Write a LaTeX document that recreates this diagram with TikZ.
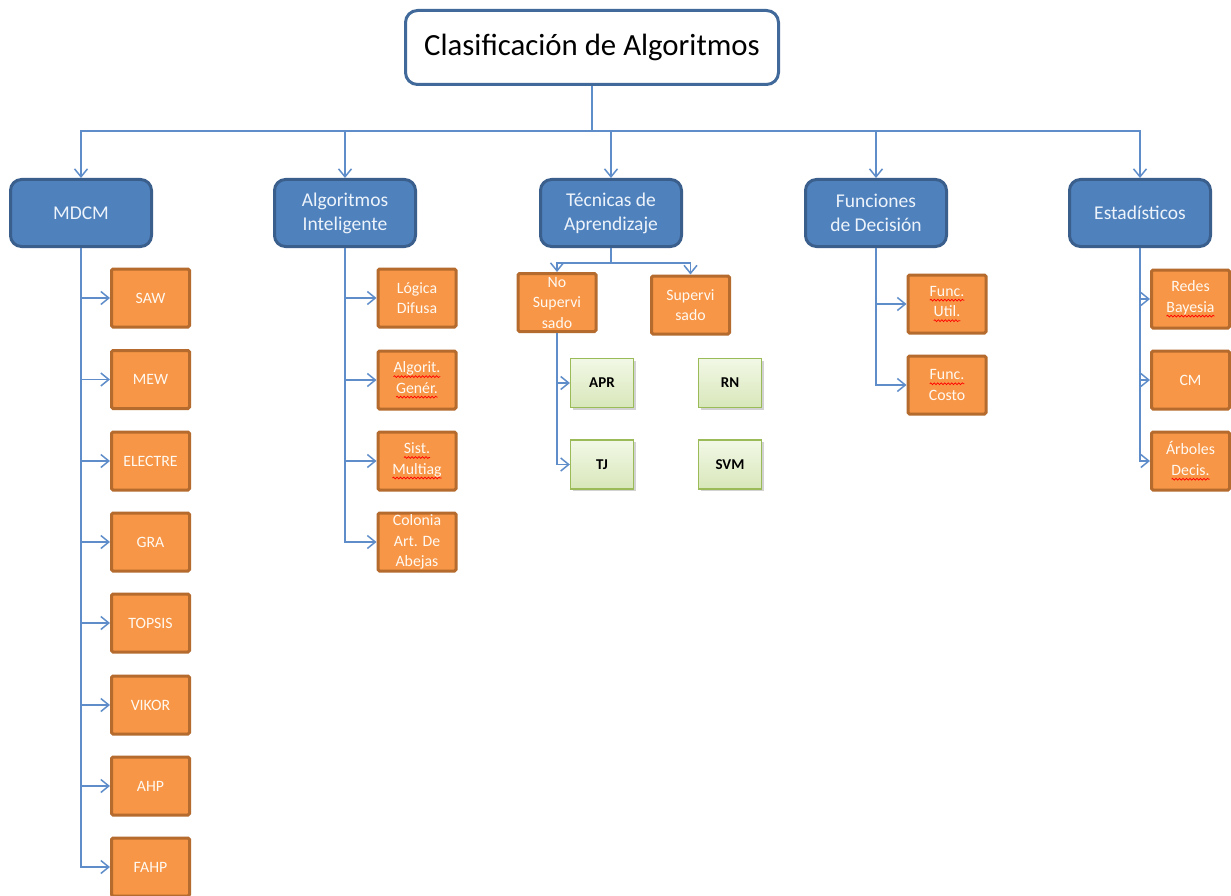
\documentclass[tikz,border=0pt]{standalone}
\usepackage{fontspec}
\setmainfont{Carlito}
\usetikzlibrary{arrows.meta,shadows,decorations.pathmorphing}
\newcommand\redwave[1]{\tikz[baseline=(w.base),x=1pt,y=1pt]{\node[draw=none,fill=none,rounded corners=0pt,minimum width=0pt,minimum height=0pt,inner sep=0pt,outer sep=0pt](w){#1};\draw[red,line width=0.7pt,rounded corners=0pt,decorate,decoration={snake,amplitude=0.9pt,segment length=3.5pt}]([yshift=-4pt]w.base west)--([yshift=-4pt]w.base east);}}
\definecolor{blueF}{HTML}{4F81BD}
\definecolor{blueD}{HTML}{3A5F8D}
\definecolor{titleD}{HTML}{41699A}
\definecolor{orF}{HTML}{F79646}
\definecolor{orD}{HTML}{B56A2E}
\definecolor{grT}{HTML}{F2F8E6}
\definecolor{grB}{HTML}{D8E7BA}
\definecolor{grD}{HTML}{9BBB59}
\definecolor{lnC}{HTML}{5F8DC9}
\definecolor{wtxt}{HTML}{FFF9F2}
\definecolor{btxt}{HTML}{EDF3FA}
\tikzset{
  titlebox/.style={draw=titleD, fill=white, line width=3pt, rounded corners=12pt,
    minimum width=373pt, minimum height=74pt, inner sep=0pt,
    font=\fontsize{30.8}{36}\selectfont},
  catbox/.style={draw=blueD, fill=blueF, line width=3pt, rounded corners=11pt,
    minimum width=141pt, minimum height=67pt, inner sep=0pt, align=center,
    text=btxt, font=\fontsize{19.5}{24}\selectfont},
  leafbox/.style={draw=orD, fill=orF, line width=3pt, rounded corners=1.5pt,
    minimum width=78pt, minimum height=58pt, inner sep=0pt, align=center,
    text=wtxt, font=\fontsize{15.8}{20.5}\selectfont},
  greenbox/.style={draw=grD, top color=grT, bottom color=grB, line width=1.2pt,
    minimum width=63pt, minimum height=49pt, inner sep=0pt, align=center,
    font=\fontsize{15}{18}\selectfont\bfseries,
    drop shadow={shadow xshift=2pt, shadow yshift=-2pt, fill=black!35, opacity=0.5}},
  conn/.style={draw=lnC, line width=1.5pt},
  arr/.style={conn, -{Straight Barb[length=8pt,width=13pt,line width=1.5pt]}},
}
\begin{document}
\begin{tikzpicture}[x=1pt,y=-1pt]
\useasboundingbox (0,0) rectangle (1231,896);
\fill[white] (0,0) rectangle (1231,896);

% title
\node[titlebox] (title) at (592,47.5) {Clasificación de Algoritmos};

% categories
\node[catbox] (mdcm) at (81,213) {MDCM};
\node[catbox] (alg) at (345,213) {Algoritmos\\Inteligente};
\node[catbox] (tec) at (611,213) {Técnicas de\\Aprendizaje};
\node[catbox] (fun) at (876,213) {Funciones\\de Decisión};
\node[catbox] (est) at (1140,213) {Estadísticos};

\coordinate (hub) at (592,131);
\draw[conn] (title.south) -- (hub);
\foreach \c in {mdcm,alg,tec,fun,est}{
  \draw[arr] (hub) -| (\c.north);
}

% MDCM leaves
\node[leafbox] (saw) at (150.5,298) {SAW};
\node[leafbox] (mew) at (150.5,379.5) {MEW};
\node[leafbox] (electre) at (150.5,461) {ELECTRE};
\node[leafbox] (gra) at (150.5,542) {GRA};
\node[leafbox] (topsis) at (150.5,623) {TOPSIS};
\node[leafbox] (vikor) at (150.5,705) {VIKOR};
\node[leafbox] (ahp) at (150.5,786) {AHP};
\node[leafbox] (fahp) at (150.5,867) {FAHP};
\foreach \c in {saw,mew,electre,gra,topsis,vikor,ahp,fahp}{
  \draw[arr] (mdcm.south) |- (\c.west);
}

% Algoritmos Inteligente leaves
\node[leafbox] (log) at (417,298) {Lógica\\Difusa};
\node[leafbox] (gen) at (417,380) {\redwave{Algorit.}\\\redwave{Genér.}};
\node[leafbox] (sist) at (417,461) {\redwave{Sist.}\\\redwave{Multiag}};
\node[leafbox] (col) at (417,542) {Colonia\\Art. De\\Abejas};
\foreach \c in {log,gen,sist,col}{
  \draw[arr] (alg.south) |- (\c.west);
}

% Tecnicas de Aprendizaje
\node[leafbox] (nosup) at (557,302.5) {No\\Supervi\\sado};
\node[leafbox] (sup) at (690.5,305) {Supervi\\sado};
\coordinate (tecj) at (611,263);
\draw[conn] (tec.south) -- (tecj);
\draw[arr] (tecj) -| (nosup.north);
\draw[arr] (tecj) -| (sup.north);

\node[greenbox] (apr) at (602,383) {APR};
\node[greenbox] (rn) at (730,383) {RN};
\node[greenbox] (tj) at (602,464.5) {TJ};
\node[greenbox] (svm) at (730,464.5) {SVM};
\draw[arr] (nosup.south) |- (apr.west);
\draw[arr] (nosup.south) |- (tj.west);

% Funciones de Decision
\node[leafbox] (util) at (947,304) {\redwave{Func.}\\\redwave{Util.}};
\node[leafbox] (costo) at (947,385) {\redwave{Func.}\\Costo};
\foreach \c in {util,costo}{
  \draw[arr] (fun.south) |- (\c.west);
}

% Estadisticos
\node[leafbox] (redes) at (1190.5,299) {Redes\\\redwave{Bayesia}};
\node[leafbox] (cm) at (1190.5,380) {CM};
\node[leafbox] (arb) at (1190.5,461) {Árboles\\\redwave{Decis.}};
\foreach \c in {redes,cm,arb}{
  \draw[arr] (est.south) |- (\c.west);
}
\end{tikzpicture}
\end{document}
